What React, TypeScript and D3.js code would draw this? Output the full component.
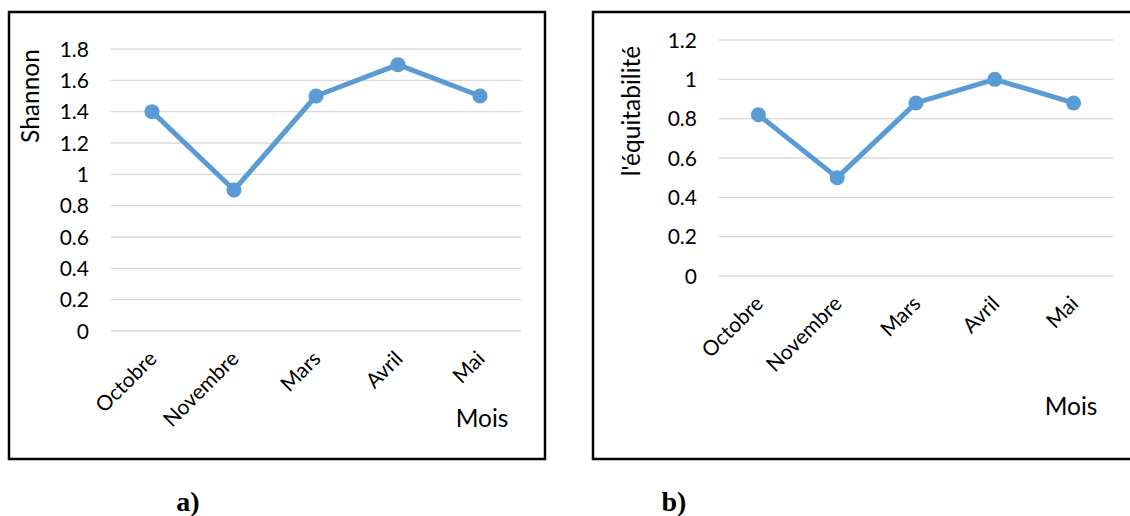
import React from "react";
import * as d3 from "d3";

const months = ["Octobre", "Novembre", "Mars", "Avril", "Mai"];
const shannonValues = [1.4, 0.9, 1.5, 1.7, 1.5];
const equitValues = [0.82, 0.5, 0.88, 1.0, 0.88];
const shannonTicks = [0, 0.2, 0.4, 0.6, 0.8, 1, 1.2, 1.4, 1.6, 1.8];
const equitTicks = [0, 0.2, 0.4, 0.6, 0.8, 1, 1.2];
const shannonTitle = "Shannon";
const equitTitle = "l'équitabilité";
const xTitle = "Mois";

const FONT = "Lato, 'Open Sans', sans-serif";
const BLUE = "#5B9BD5";

type PanelProps = {
  box: { x: number; y: number; w: number; h: number };
  xRange: [number, number];
  yRange: [number, number];
  yMax: number;
  values: number[];
  ticks: number[];
  yTitle: string;
  yTitlePos: [number, number];
  xTitlePos: [number, number];
  caption: string;
  captionPos: [number, number];
};

function Panel(p: PanelProps) {
  const x = d3.scaleBand<string>().domain(months).range(p.xRange).padding(0);
  const y = d3.scaleLinear().domain([0, p.yMax]).range(p.yRange);
  const cx = (m: string) => (x(m) as number) + x.bandwidth() / 2;
  const pts = months.map((m, i) => ({ m, v: p.values[i] }));
  const line = d3
    .line<{ m: string; v: number }>()
    .x((d) => cx(d.m))
    .y((d) => y(d.v));
  const fmt = (t: number) => String(t);
  return (
    <g>
      <rect
        x={p.box.x}
        y={p.box.y}
        width={p.box.w}
        height={p.box.h}
        fill="#fff"
        stroke="#000"
        strokeWidth={2.5}
      />
      {p.ticks.map((t) => (
        <g key={t}>
          <line
            x1={p.xRange[0]}
            x2={p.xRange[1]}
            y1={y(t)}
            y2={y(t)}
            stroke="#D9D9D9"
            strokeWidth={1.3}
          />
          <text
            x={p.xRange[0] - 22}
            y={y(t)}
            dy="0.36em"
            textAnchor="end"
            fontFamily={FONT}
            fontSize={21}
            fill="#000"
          >
            {fmt(t)}
          </text>
        </g>
      ))}
      {months.map((m) => (
        <text
          key={m}
          transform={`translate(${cx(m) + 6},${p.yRange[0] + 29}) rotate(-45)`}
          textAnchor="end"
          fontFamily={FONT}
          fontSize={21}
          fill="#000"
        >
          {m}
        </text>
      ))}
      <path d={line(pts) || ""} fill="none" stroke={BLUE} strokeWidth={5} strokeLinejoin="round" />
      {pts.map((d) => (
        <circle key={d.m} cx={cx(d.m)} cy={y(d.v)} r={7.5} fill={BLUE} />
      ))}
      <text
        transform={`translate(${p.yTitlePos[0]},${p.yTitlePos[1]}) rotate(-90)`}
        textAnchor="middle"
        fontFamily={FONT}
        fontSize={24.5}
        fill="#000"
      >
        {p.yTitle}
      </text>
      <text
        x={p.xTitlePos[0]}
        y={p.xTitlePos[1]}
        textAnchor="middle"
        fontFamily={FONT}
        fontSize={24.5}
        fill="#000"
      >
        {xTitle}
      </text>
      <text
        x={p.captionPos[0]}
        y={p.captionPos[1]}
        textAnchor="middle"
        fontFamily="'Liberation Serif', 'Times New Roman', serif"
        fontWeight="bold"
        fontSize={28}
        fill="#000"
      >
        {p.caption}
      </text>
    </g>
  );
}

export default function App() {
  return (
    <svg
      width={1130}
      height={516}
      style={{ position: "absolute", left: 0, top: 0, background: "#fff" }}
    >
      <Panel
        box={{ x: 9, y: 12, w: 536, h: 447 }}
        xRange={[111, 521]}
        yRange={[331, 49]}
        yMax={1.8}
        values={shannonValues}
        ticks={shannonTicks}
        yTitle={shannonTitle}
        yTitlePos={[39, 96]}
        xTitlePos={[482, 427]}
        caption="a)"
        captionPos={[188, 511]}
      />
      <Panel
        box={{ x: 593, y: 12, w: 560, h: 447 }}
        xRange={[719, 1113]}
        yRange={[276, 40]}
        yMax={1.2}
        values={equitValues}
        ticks={equitTicks}
        yTitle={equitTitle}
        yTitlePos={[640, 111]}
        xTitlePos={[1071, 415]}
        caption="b)"
        captionPos={[674, 511]}
      />
    </svg>
  );
}
